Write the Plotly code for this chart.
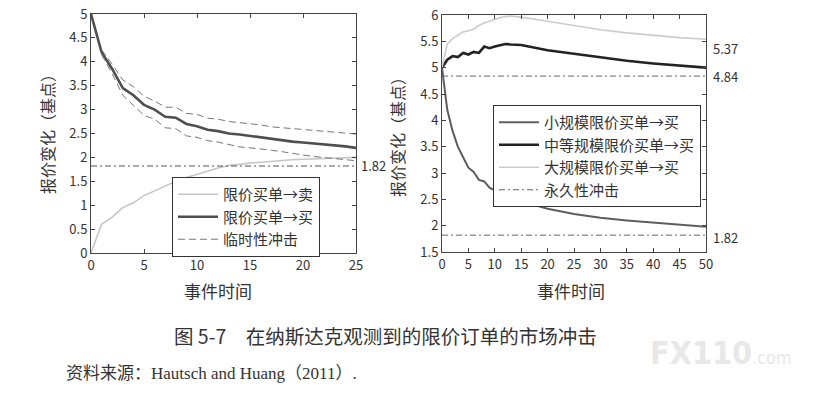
import plotly.graph_objects as go

# ---------------- data ----------------
left_x = list(range(0, 26))
left_sell = [0.0, 0.6, 0.75, 0.95, 1.05, 1.2, 1.3, 1.4, 1.5, 1.58, 1.65, 1.72, 1.78, 1.83, 1.86,
             1.88, 1.9, 1.92, 1.93, 1.95, 1.96, 1.97, 1.98, 1.99, 2.0, 2.0]
left_buy = [5.0, 4.2, 3.85, 3.45, 3.3, 3.1, 3.0, 2.85, 2.83, 2.7, 2.65, 2.58, 2.55, 2.5, 2.48,
            2.45, 2.42, 2.38, 2.36, 2.33, 2.31, 2.29, 2.28, 2.25, 2.23, 2.2]
band_x = list(range(1, 26))
band_upper = [4.25, 3.95, 3.62, 3.48, 3.28, 3.18, 3.05, 3.05, 2.92, 2.9, 2.82, 2.8, 2.75, 2.73,
              2.7, 2.68, 2.64, 2.62, 2.6, 2.58, 2.56, 2.55, 2.53, 2.51, 2.49]
band_lower = [4.15, 3.75, 3.3, 3.1, 2.88, 2.8, 2.62, 2.6, 2.45, 2.42, 2.35, 2.32, 2.27, 2.22,
              2.2, 2.18, 2.15, 2.12, 2.08, 2.05, 2.02, 2.0, 1.98, 1.95, 1.93]
left_perm = 1.82

right_x = [0, 1, 2, 3, 4, 5, 6, 7, 8, 9, 10, 11, 12, 13, 14, 15, 20, 25, 30, 35, 40, 45, 50]
right_small = [5.0, 4.2, 3.8, 3.5, 3.3, 3.1, 3.02, 2.87, 2.84, 2.72, 2.67, 2.62, 2.58, 2.52, 2.49,
               2.46, 2.32, 2.22, 2.15, 2.1, 2.06, 2.01, 1.98]
right_medium = [5.0, 5.15, 5.22, 5.2, 5.28, 5.25, 5.3, 5.28, 5.4, 5.37, 5.4, 5.43, 5.45, 5.44, 5.44,
                5.43, 5.33, 5.26, 5.19, 5.13, 5.08, 5.04, 5.0]
right_large = [5.0, 5.45, 5.55, 5.62, 5.68, 5.7, 5.73, 5.8, 5.85, 5.88, 5.92, 5.95, 5.97, 5.98, 5.97,
               5.96, 5.88, 5.8, 5.72, 5.66, 5.61, 5.57, 5.54]
right_perm = [4.84, 1.82]
right_labels = [("5.37", 5.37), ("4.84", 4.84), ("1.82", 1.78)]

left_yticks = [0, 0.5, 1, 1.5, 2, 2.5, 3, 3.5, 4, 4.5, 5]
left_yticklabels = ["0", "0.5", "1", "1.5", "2", "2.5", "3", "3.5", "4", "4.5", "5"]
left_xticks = [0, 5, 10, 15, 20, 25]
right_yticks = [1.5, 2, 2.5, 3, 3.5, 4, 4.5, 5, 5.5, 6]
right_yticklabels = ["1.5", "2", "2.5", "3", "3.5", "4", "4.5", "5", "5.5", "6"]
right_xticks = [0, 5, 10, 15, 20, 25, 30, 35, 40, 45, 50]

ytitle = "报价变化（基点）"
xtitle = "事件时间"
caption = "图 5-7　在纳斯达克观测到的限价订单的市场冲击"
source = "资料来源：Hautsch and Huang（2011）."

FONT = "Noto Sans CJK SC"
TXT = "#333333"
W, H = 835, 411


def fx(px):
    return px / W


def fy(py):
    return 1 - py / H


fig = go.Figure()

# ---- left panel ----
fig.add_trace(go.Scatter(x=left_x, y=left_sell, mode="lines", name="限价买单→卖",
                         line=dict(color="#c6c6c6", width=1.6), xaxis="x", yaxis="y", legend="legend"))
fig.add_trace(go.Scatter(x=left_x, y=left_buy, mode="lines", name="限价买单→买",
                         line=dict(color="#4f4f4f", width=2.6), xaxis="x", yaxis="y", legend="legend"))
fig.add_trace(go.Scatter(x=band_x, y=band_upper, mode="lines", name="临时性冲击",
                         line=dict(color="#777777", width=1, dash="7px,4px"), xaxis="x", yaxis="y",
                         legend="legend"))
fig.add_trace(go.Scatter(x=band_x, y=band_lower, mode="lines", name="临时性冲击", showlegend=False,
                         line=dict(color="#777777", width=1, dash="7px,4px"), xaxis="x", yaxis="y"))
fig.add_trace(go.Scatter(x=[0, 25], y=[left_perm, left_perm], mode="lines", showlegend=False,
                         line=dict(color="#555555", width=1, dash="6px,3px,2px,3px"), xaxis="x", yaxis="y"))

# ---- right panel ----
fig.add_trace(go.Scatter(x=right_x, y=right_small, mode="lines", name="小规模限价买单→买",
                         line=dict(color="#5e5e5e", width=2), xaxis="x2", yaxis="y2", legend="legend2"))
fig.add_trace(go.Scatter(x=right_x, y=right_medium, mode="lines", name="中等规模限价买单→买",
                         line=dict(color="#222222", width=2.6), xaxis="x2", yaxis="y2", legend="legend2"))
fig.add_trace(go.Scatter(x=right_x, y=right_large, mode="lines", name="大规模限价买单→买",
                         line=dict(color="#cccccc", width=1.6), xaxis="x2", yaxis="y2", legend="legend2"))
for i, v in enumerate(right_perm):
    fig.add_trace(go.Scatter(x=[0, 50], y=[v, v], mode="lines", name="永久性冲击",
                             showlegend=(i == 0),
                             line=dict(color="#666666", width=1, dash="6px,3px,2px,3px"),
                             xaxis="x2", yaxis="y2", legend="legend2"))

axis_common = dict(showline=True, mirror="ticks", linecolor="#444444", linewidth=1,
                   ticks="inside", ticklen=4, tickcolor="#444444", showgrid=False, zeroline=False,
                   automargin=False, ticklabeloverflow="allow",
                   tickfont=dict(family=FONT, size=13, color=TXT))

legend_common = dict(xanchor="left", yanchor="top", bordercolor="#333333", borderwidth=1,
                     bgcolor="white", font=dict(family=FONT, size=15, color=TXT),
                     tracegroupgap=0, itemwidth=40, traceorder="normal")

fig.update_layout(
    width=W, height=H, margin=dict(l=0, r=0, t=0, b=0, autoexpand=False),
    paper_bgcolor="white", plot_bgcolor="white",
    font=dict(family=FONT, color=TXT),
    xaxis=dict(domain=[fx(91), fx(356)], range=[0, 25], tickvals=left_xticks, anchor="y", **axis_common),
    yaxis=dict(domain=[fy(253), fy(14)], range=[0, 5], tickvals=left_yticks,
               ticktext=left_yticklabels, anchor="x", **axis_common),
    xaxis2=dict(domain=[fx(442), fx(706)], range=[0, 50], tickvals=right_xticks, anchor="y2", **axis_common),
    yaxis2=dict(domain=[fy(252), fy(15)], range=[1.5, 6], tickvals=right_yticks,
                ticktext=right_yticklabels, anchor="x2", **axis_common),
    legend=dict(x=fx(172), y=fy(177), **legend_common),
    legend2=dict(x=fx(493), y=fy(105), **legend_common),
    showlegend=True,
)


def note(text, x, y, size, xanchor="center", family=FONT, **kw):
    return dict(text=text, x=fx(x), y=fy(y), xref="paper", yref="paper",
                xanchor=xanchor, yanchor="middle", showarrow=False,
                font=dict(family=family, size=size, color=kw.pop("color", TXT)), **kw)


ann = []
ann.append(dict(text="1.82", x=1.01, xref="x domain", y=left_perm, yref="y", xanchor="left",
                yanchor="middle", showarrow=False, font=dict(family=FONT, size=13, color=TXT)))
for t, v in right_labels:
    ann.append(dict(text=t, x=1.02, xref="x2 domain", y=v, yref="y2", xanchor="left",
                    yanchor="middle", showarrow=False, font=dict(family=FONT, size=13, color=TXT)))
ann.append(note(ytitle, 47, 130, 16, textangle=-90))
ann.append(note(ytitle, 397, 133, 16, textangle=-90))
ann.append(note(xtitle, 218, 290, 17))
ann.append(note(xtitle, 571, 290, 17))
ann.append(note(caption, 385, 335, 19.5))
ann.append(note(source, 64, 373, 17, xanchor="left", family="Liberation Serif, " + FONT))
ann.append(note("<b>FX110</b><span style='font-size:18px'>.com</span>", 648, 353, 32,
                xanchor="left", family="DejaVu Sans Condensed", color="#e8e8e8"))
fig.update_layout(annotations=ann)

# place the figure flush with the page's top-left corner (no default body margin), no modebar
fig.write_html("out.html", config={"displayModeBar": False},
               post_script="document.body.style.margin='0';")
